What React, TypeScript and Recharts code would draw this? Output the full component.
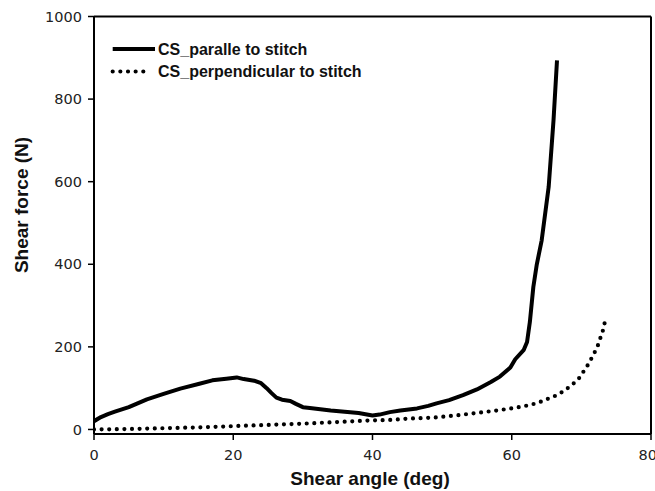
import React from "react";
import {
  LineChart,
  Line,
  XAxis,
  YAxis,
  Legend,
  ReferenceLine,
} from "recharts";

// CS parallel to stitch (solid)
const parAngle = [
  0, 1, 2, 3, 5, 7.6, 10, 12.4, 15, 17, 19, 20.5, 21.5, 23, 24, 24.8, 25.5,
  26.2, 27, 28.2, 29, 30, 31, 32.5, 34, 36, 38, 40, 41, 42.5, 44, 46.4, 48,
  49.2, 51, 53, 55, 57, 58.3, 59.8, 60.5, 61.7, 62.2, 62.6, 63.1, 63.6, 64.3,
  65.3, 66, 66.5,
];
const parForce = [
  20, 30, 37, 43, 54, 73, 86, 99, 110, 119, 123, 126, 122, 118, 112, 100, 88,
  77, 72, 69, 62, 54, 52, 49, 46, 43, 40, 34, 36, 42, 46, 51, 57, 63, 71, 83,
  97, 115, 128, 150, 170, 192, 212, 260, 345, 400, 458, 587, 749, 894,
];

// CS perpendicular to stitch (dotted)
const perpAngle = [
  0, 5, 10, 15, 17, 20, 25, 30, 35, 40, 42.5, 45, 49, 52, 56, 58.3, 60, 62.6,
  64, 66.2, 67.5, 68.4, 69.5, 70.3, 71, 71.7, 72.3, 72.7, 73.1, 73.4,
];
const perpForce = [
  0, 1, 3, 5, 6, 8, 11, 14, 18, 22, 23, 26, 29, 34, 42, 47, 51, 59, 66, 81, 93,
  105, 120, 140, 158, 180, 200, 220, 240, 262,
];

const xTicks = [0, 20, 40, 60, 80];
const yTicks = [0, 200, 400, 600, 800, 1000];

const parData = parAngle.map((x, i) => ({ x, y: parForce[i] }));
const perpData = perpAngle.map((x, i) => ({ x, y: perpForce[i] }));

const tickStyle = { fontFamily: "DejaVu Sans", fontSize: 14.5, fill: "#222" };
const titleFont = "Liberation Sans, Arial, sans-serif";

function LegendBox() {
  return (
    <svg width={270} height={50} style={{ display: "block" }}>
      <line x1={7.7} y1={14} x2={50} y2={14} stroke="#000" strokeWidth={4} />
      <text
        x={53}
        y={19.5}
        fontFamily={titleFont}
        fontWeight="bold"
        fontSize={16}
        fill="#111"
      >
        CS_paralle to stitch
      </text>
      <line
        x1={7.7}
        y1={36.5}
        x2={39}
        y2={36.5}
        stroke="#000"
        strokeWidth={4.2}
        strokeLinecap="round"
        strokeDasharray="0 7.65"
      />
      <text
        x={53}
        y={42}
        fontFamily={titleFont}
        fontWeight="bold"
        fontSize={16}
        fill="#111"
      >
        CS_perpendicular to stitch
      </text>
    </svg>
  );
}

export default function App() {
  return (
    <div style={{ position: "absolute", left: 0, top: 0, background: "#fff" }}>
      <LineChart
        width={655}
        height={491}
        margin={{ top: 16.5, right: 4, bottom: 27, left: 10 }}
      >
        <XAxis
          dataKey="x"
          type="number"
          domain={[0, 80]}
          ticks={xTicks}
          allowDataOverflow
          height={30}
          tickSize={6}
          tickMargin={10}
          tick={tickStyle}
          axisLine={{ stroke: "#000", strokeWidth: 2 }}
          tickLine={{ stroke: "#000", strokeWidth: 1.5 }}
          label={{
            content: () => (
              <text
                x={370}
                y={485}
                textAnchor="middle"
                fontFamily={titleFont}
                fontWeight="bold"
                fontSize={19}
                fill="#111"
              >
                Shear angle (deg)
              </text>
            ),
          }}
        />
        <YAxis
          dataKey="y"
          type="number"
          domain={[-11, 1000]}
          ticks={yTicks}
          allowDataOverflow
          width={84}
          tickSize={6}
          tickMargin={6}
          tick={tickStyle}
          axisLine={{ stroke: "#000", strokeWidth: 2 }}
          tickLine={{ stroke: "#000", strokeWidth: 1.5 }}
          label={{
            content: () => (
              <text
                x={28}
                y={205}
                transform="rotate(-90, 28, 205)"
                textAnchor="middle"
                fontFamily={titleFont}
                fontWeight="bold"
                fontSize={19}
                fill="#111"
              >
                Shear force (N)
              </text>
            ),
          }}
        />
        <ReferenceLine y={1000} stroke="#000" strokeWidth={2} />
        <ReferenceLine x={80} stroke="#000" strokeWidth={2} />
        <Legend
          layout="horizontal"
          verticalAlign="middle"
          align="center"
          wrapperStyle={{ top: 35, left: 105, width: 270 }}
          content={() => <LegendBox />}
        />
        <Line
          data={perpData}
          dataKey="y"
          name="CS_perpendicular to stitch"
          stroke="#000"
          strokeWidth={4.2}
          strokeLinecap="round"
          strokeDasharray="0 7.6"
          dot={false}
          isAnimationActive={false}
        />
        <Line
          data={parData}
          dataKey="y"
          name="CS_paralle to stitch"
          stroke="#000"
          strokeWidth={4}
          strokeLinejoin="round"
          dot={false}
          isAnimationActive={false}
        />
      </LineChart>
    </div>
  );
}
